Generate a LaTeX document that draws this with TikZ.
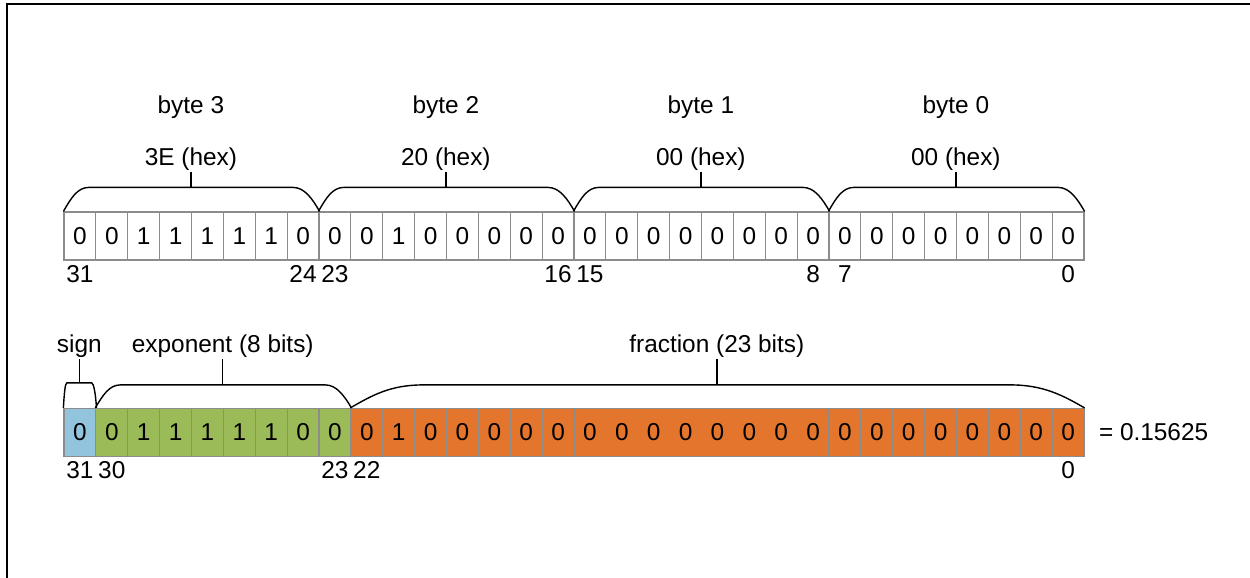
\documentclass[tikz,border=0pt]{standalone}
\usepackage{fontspec}
\setmainfont{Liberation Sans}
\usetikzlibrary{positioning}

\definecolor{cellline}{RGB}{140,140,140}
\definecolor{signblue}{RGB}{146,196,222}
\definecolor{expgreen}{RGB}{155,187,89}
\definecolor{fracorange}{RGB}{228,117,44}

\tikzset{
  every node/.style={font=\fontsize{12.2}{14.6}\selectfont, inner sep=1pt},
  cell/.style={draw=cellline, line width=0.6pt, minimum width=15.9375pt,
               minimum height=24pt, inner sep=0pt},
  brace/.style={line width=0.7pt},
  num/.style={anchor=base},
}

\begin{document}
\begin{tikzpicture}[x=0.5pt,y=-0.5pt]
  \useasboundingbox (0,0) rectangle (1250,578);
  \draw [line width=1.4pt] (7,578) -- (7,4) -- (1250,4);

  % the four bytes
  \foreach \b [count=\i from 0] in {0,0,1,1,1,1,1,0, 0,0,1,0,0,0,0,0,
                                    0,0,0,0,0,0,0,0, 0,0,0,0,0,0,0,0}
    \node [cell, fill=white] (t\i) at ({64+(\i+0.5)*31.875},236) {\b};
  \foreach \i/\n in {0/31,7/24,8/23,15/16,16/15,23/8,24/7,31/0}
    \node [num] (tn\i) at (t\i |- 0,282) {\n};

  \foreach \k/\first/\last/\hex in {3/0/7/3E, 2/8/15/20, 1/16/23/00, 0/24/31/00} {
    \draw [brace] (t\first.north west) .. controls +(7.6,-13.2) and +(-11.5,0) .. ++(25.5,-24)
      -- ++(204,0) coordinate [pos=.5] (br\k)
      .. controls +(11.5,0) and +(-7.6,-13.2) .. (t\last.north east);
    \node [num] (hex\k)  at (br\k |- 0,165) {\hex{} (hex)};
    \node [num] (byte\k) at (br\k |- 0,113) {byte \k};
    \draw [brace] (br\k) -- (hex\k);
  }

  % sign, exponent, fraction
  \node [cell, fill=signblue] (f0) at (79.9375,432.5) {0};
  \foreach \b [count=\i from 1] in {0,1,1,1,1,1,0,0}
    \node [cell, fill=expgreen] (f\i) at ({64+(\i+0.5)*31.875},432.5) {\b};
  \foreach \b [count=\i from 9] in {0,1,0,0,0,0,0,0,0,0,0,0,0,0,0,0,0,0,0,0,0,0,0}
    \node [cell, fill=fracorange] (f\i) at ({64+(\i+0.5)*31.875},432.5) {\b};
  \foreach \i/\n in {0/31,1/30,8/23,9/22,31/0}
    \node [num] (fn\i) at (f\i |- 0,478) {\n};

  \draw [brace] (f0.north west) .. controls +(0.8,-14) and +(-1.8,0) .. ++(3.5,-25)
    -- ++(24.875,0) coordinate [pos=.5] (brs)
    .. controls +(1.8,0) and +(-0.8,-14) .. (f0.north east);
  \draw [brace] (f1.north west) .. controls +(7.5,-12.6) and +(-11,0) .. ++(25,-23)
    -- ++(205,0) coordinate [pos=.5] (bre)
    .. controls +(11,0) and +(-7.5,-12.6) .. (f8.north east);
  \draw [brace] (f9.north west) .. controls +(22,-12.6) and +(-33,0) .. ++(73,-23)
    -- ++(587.125,0) coordinate [pos=.5] (brf)
    .. controls +(33,0) and +(-22,-12.6) .. (f31.north east);

  \node [num] (sign) at (brs |- 0,352) {sign};
  \node [num] (expo) at (bre |- 0,352) {exponent (8 bits)};
  \node [num] (frac) at (brf |- 0,352) {fraction (23 bits)};
  \draw [brace] (brs) -- (sign);
  \draw [brace] (bre) -- (expo);
  \draw [brace] (brf) -- (frac);

  \node [right=6pt of f31] (val) {= 0.15625};
\end{tikzpicture}
\end{document}
